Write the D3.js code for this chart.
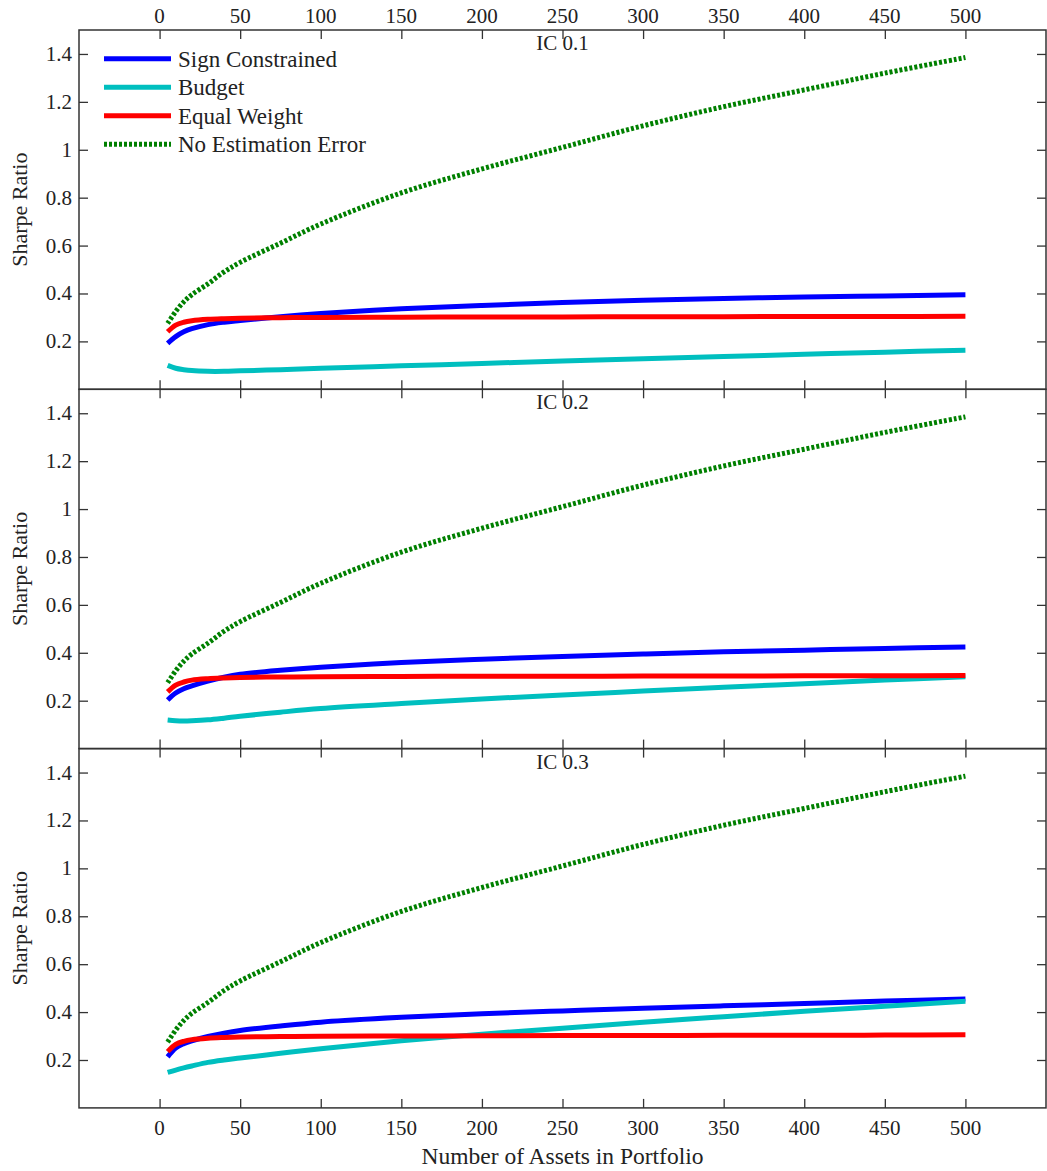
<!DOCTYPE html>
<html>
<head>
<meta charset="utf-8">
<script src="https://cdn.jsdelivr.net/npm/d3@7"></script>
<style>
  body { margin: 0; background: #fff; }
</style>
</head>
<body>
<svg id="chart" width="1047" height="1171"></svg>
<script>
// number of assets sampled along each curve
let assets = [5, 10, 15, 20, 30, 40, 50, 75, 100, 150, 200, 250, 300, 350, 400, 450, 500]

let panelTitles = ["IC 0.1", "IC 0.2", "IC 0.3"]
let seriesNames = ["Sign Constrained", "Budget", "Equal Weight", "No Estimation Error"]

// IC 0.1
let sign1 = [0.192, 0.22, 0.24, 0.253, 0.27, 0.28, 0.287, 0.303, 0.316, 0.336, 0.35, 0.362, 0.372, 0.379, 0.385, 0.39, 0.395]
let budget1 = [0.10, 0.088, 0.082, 0.078, 0.075, 0.075, 0.077, 0.082, 0.088, 0.098, 0.108, 0.118, 0.128, 0.137, 0.146, 0.155, 0.163]
let equal1 = [0.24, 0.268, 0.28, 0.286, 0.292, 0.295, 0.297, 0.299, 0.300, 0.301, 0.302, 0.302, 0.303, 0.303, 0.304, 0.304, 0.305]

// IC 0.2
let sign2 = [0.203, 0.232, 0.25, 0.262, 0.282, 0.298, 0.31, 0.327, 0.34, 0.359, 0.373, 0.385, 0.395, 0.404, 0.411, 0.418, 0.424]
let budget2 = [0.119, 0.116, 0.115, 0.116, 0.12, 0.127, 0.135, 0.152, 0.167, 0.188, 0.207, 0.224, 0.24, 0.256, 0.271, 0.286, 0.30]
let equal2 = [0.237, 0.265, 0.278, 0.286, 0.292, 0.295, 0.297, 0.299, 0.300, 0.301, 0.302, 0.302, 0.303, 0.303, 0.304, 0.304, 0.305]

// IC 0.3
let sign3 = [0.213, 0.25, 0.268, 0.28, 0.298, 0.312, 0.323, 0.342, 0.358, 0.378, 0.393, 0.405, 0.416, 0.426, 0.436, 0.446, 0.455]
let budget3 = [0.148, 0.158, 0.167, 0.175, 0.19, 0.2, 0.208, 0.228, 0.247, 0.28, 0.308, 0.333, 0.358, 0.381, 0.403, 0.424, 0.445]
let equal3 = [0.235, 0.265, 0.278, 0.285, 0.291, 0.294, 0.296, 0.298, 0.299, 0.300, 0.301, 0.302, 0.302, 0.303, 0.303, 0.304, 0.305]

// same in every panel
let noError = [0.275, 0.325, 0.365, 0.395, 0.44, 0.49, 0.53, 0.61, 0.69, 0.82, 0.92, 1.01, 1.10, 1.18, 1.25, 1.32, 1.385]

let xTicks = [0, 50, 100, 150, 200, 250, 300, 350, 400, 450, 500]
let yTicks = [0.2, 0.4, 0.6, 0.8, 1, 1.2, 1.4]

let panels = [
    { title: panelTitles[0], series: [sign1, budget1, equal1, noError] },
    { title: panelTitles[1], series: [sign2, budget2, equal2, noError] },
    { title: panelTitles[2], series: [sign3, budget3, equal3, noError] }
]

let colors = ["#0000ff", "#00bfbf", "#ff0000", "#008000"]
let dashes = [null, null, null, "3,2"]

let serif = "'Liberation Serif', Tinos, 'Times New Roman', Times, 'DejaVu Serif', serif"

let svg = d3.select("#chart")
    .attr("font-family", serif)
let plotLeft = 79, plotRight = 1046, plotTop = 30, panelH = 359.3
let tickLen = 9
let axisColor = "#333"
let textColor = "#222"

let x = d3.scaleLinear().domain([-50, 550]).range([plotLeft, plotRight])

let line = (y) => d3.line()
    .x((d, i) => x(assets[i]))
    .y((d) => y(d))
    .curve(d3.curveCatmullRom)

let addText = (sel, size) => sel.append("text")
    .attr("font-family", serif)
    .attr("font-size", size)
    .attr("fill", textColor)

panels.forEach((panel, p) => {
    let y0 = plotTop + p * panelH
    let y = d3.scaleLinear().domain([0, 1.5]).range([y0 + panelH, y0])
    let g = svg.append("g")

    // curves
    panel.series.forEach((values, s) => {
        g.append("path")
            .datum(values)
            .attr("d", line(y))
            .attr("fill", "none")
            .attr("stroke", colors[s])
            .attr("stroke-width", 5)
            .attr("stroke-dasharray", dashes[s])
    })

    // inward ticks on all four sides
    g.append("g").attr("transform", `translate(0,${y0})`)
        .call(d3.axisBottom(x).tickValues(xTicks).tickSize(tickLen).tickFormat(""))
    g.append("g").attr("transform", `translate(0,${y0 + panelH})`)
        .call(d3.axisTop(x).tickValues(xTicks).tickSize(tickLen).tickFormat(""))
    g.append("g").attr("transform", `translate(${plotLeft},0)`)
        .call(d3.axisRight(y).tickValues(yTicks).tickSize(tickLen).tickFormat(""))
    g.append("g").attr("transform", `translate(${plotRight},0)`)
        .call(d3.axisLeft(y).tickValues(yTicks).tickSize(tickLen).tickFormat(""))
    g.selectAll(".domain").remove()
    g.selectAll(".tick line").attr("stroke", axisColor).attr("stroke-width", 1.3)

    // y tick labels
    yTicks.forEach((t) => {
        addText(g, 21)
            .attr("x", plotLeft - 7)
            .attr("y", y(t) + 7)
            .attr("text-anchor", "end")
            .text(d3.format("~g")(t))
    })

    // frame
    g.append("rect")
        .attr("x", plotLeft).attr("y", y0)
        .attr("width", plotRight - plotLeft).attr("height", panelH)
        .attr("fill", "none").attr("stroke", axisColor).attr("stroke-width", 1.5)

    addText(g, 21)
        .attr("x", (plotLeft + plotRight) / 2)
        .attr("y", y0 + 20)
        .attr("text-anchor", "middle")
        .text(panel.title)

    addText(g, 22)
        .attr("transform", `translate(27,${y0 + panelH / 2}) rotate(-90)`)
        .attr("text-anchor", "middle")
        .text("Sharpe Ratio")
})

// x tick labels, top and bottom
let plotBottom = plotTop + 3 * panelH
xTicks.forEach((t) => {
    addText(svg, 21)
        .attr("x", x(t))
        .attr("y", 23)
        .attr("text-anchor", "middle")
        .text(t)
    addText(svg, 21)
        .attr("x", x(t))
        .attr("y", plotBottom + 27)
        .attr("text-anchor", "middle")
        .text(t)
})

addText(svg, 23.5)
    .attr("x", (plotLeft + plotRight) / 2)
    .attr("y", 1164)
    .attr("text-anchor", "middle")
    .text("Number of Assets in Portfolio")

// legend
let legend = svg.append("g")
seriesNames.forEach((name, i) => {
    let ly = 58.7 + i * 28.5
    legend.append("line")
        .attr("x1", 104).attr("x2", 171)
        .attr("y1", ly).attr("y2", ly)
        .attr("stroke", colors[i])
        .attr("stroke-width", 5)
        .attr("stroke-dasharray", dashes[i])
    addText(legend, 23)
        .attr("x", 178)
        .attr("y", ly + 8)
        .text(name)
})
</script>
</body>
</html>
